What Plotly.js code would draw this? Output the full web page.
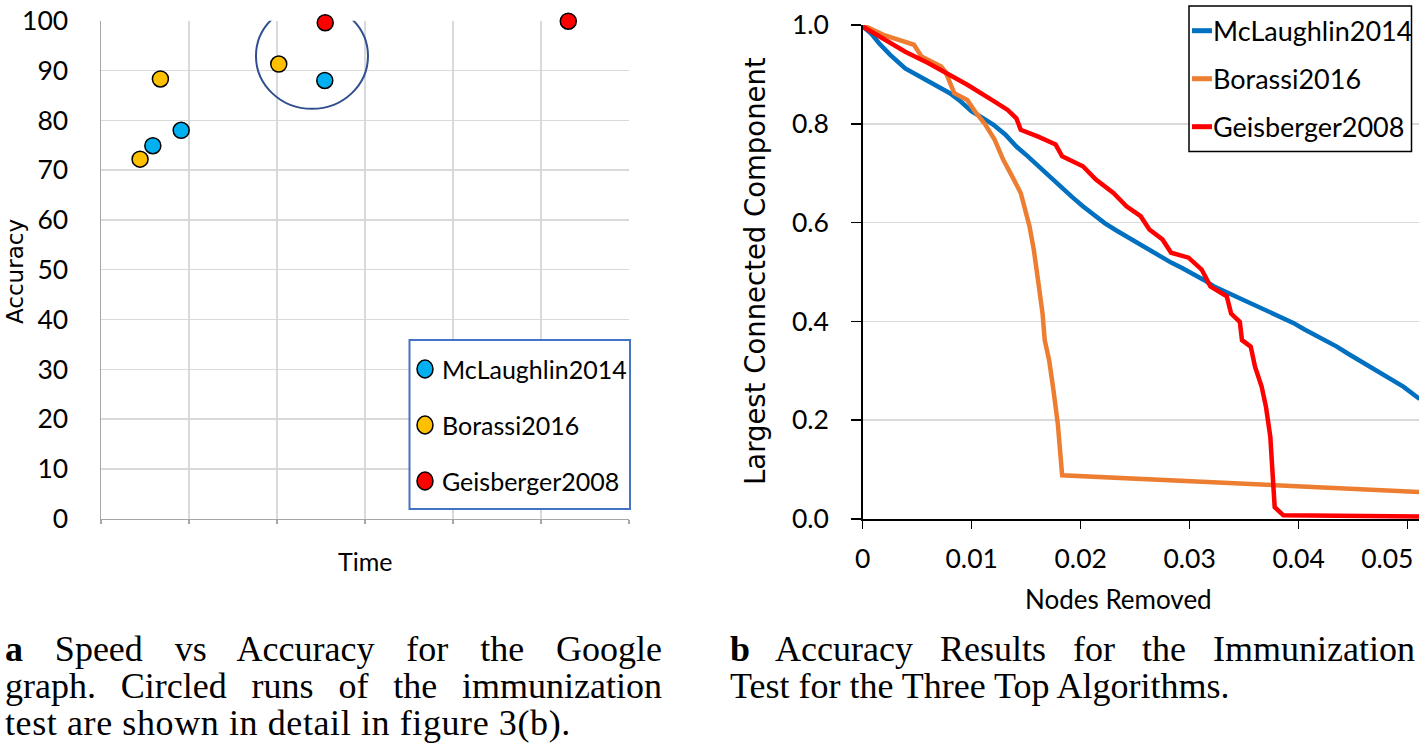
<!DOCTYPE html>
<html>
<head>
<meta charset="utf-8">
<script src="https://cdn.plot.ly/plotly-3.0.1.min.js"></script>
<style>
  html, body { margin: 0; padding: 0; background: #ffffff; }
  #wrap { position: relative; width: 1419px; height: 745px; overflow: hidden; }
  #chart { position: absolute; left: 0; top: 0; width: 1419px; height: 745px; }
  .cap { position: absolute; font-family: "Liberation Serif", "Times New Roman", serif; font-size: 36px; line-height: 37px; color: #000; white-space: nowrap; }
  .cap .ln { display: block; }
  .cap .j { text-align: justify; text-align-last: justify; white-space: normal; }
  .cap b { font-weight: bold; }
</style>
</head>
<body>
<div id="wrap">
  <div id="chart"></div>
  <div class="cap" id="capA" style="left:5px; top:631px; width:657px;">
    <span class="ln j"><b>a</b> Speed vs Accuracy for the Google</span>
    <span class="ln j">graph. Circled runs of the immunization</span>
    <span class="ln" style="letter-spacing:0.6px;">test are shown in detail in figure 3(b).</span>
  </div>
  <div class="cap" id="capB" style="left:730px; top:631px; width:685px;">
    <span class="ln j"><b>b</b> Accuracy Results for the Immunization</span>
    <span class="ln">Test for the Three Top Algorithms.</span>
  </div>
</div>
<script>
// ---------- data: panel (a) speed vs accuracy ----------
const algorithms = ['McLaughlin2014', 'Borassi2016', 'Geisberger2008'];
const timeMcLaughlin = [0.589, 0.911, 2.543];
const accMcLaughlin  = [74.9, 78.0, 88.0];
const timeBorassi    = [0.444, 0.675, 2.02];
const accBorassi     = [72.2, 88.3, 91.3];
const timeGeisberger = [2.548, 5.31];
const accGeisberger  = [99.6, 99.9];
const accuracyTicks  = [0, 10, 20, 30, 40, 50, 60, 70, 80, 90, 100];

// ---------- data: panel (b) immunization test ----------
const nodesTickVals   = [0, 0.01, 0.02, 0.03, 0.04, 0.05];
const nodesTickLabels = ['0', '0.01', '0.02', '0.03', '0.04', '0.05'];
const removedMcLaughlin = [0, 0.0008, 0.0015, 0.0025, 0.0039, 0.005, 0.006, 0.007, 0.008, 0.009, 0.010, 0.011, 0.012, 0.0131, 0.0141, 0.0151, 0.0161, 0.0171, 0.0181, 0.0192, 0.0202, 0.0212, 0.0222, 0.0232, 0.0242, 0.0252, 0.0263, 0.0273, 0.0283, 0.0293, 0.0303, 0.0313, 0.0323, 0.0334, 0.0344, 0.0354, 0.0364, 0.0374, 0.0384, 0.0395, 0.0405, 0.0415, 0.0425, 0.0435, 0.0445, 0.0455, 0.0465, 0.0476, 0.0486, 0.0496, 0.0511];
const lccMcLaughlin     = [0.997, 0.982, 0.963, 0.940, 0.912, 0.898, 0.886, 0.875, 0.862, 0.845, 0.825, 0.812, 0.798, 0.778, 0.754, 0.735, 0.714, 0.695, 0.673, 0.652, 0.633, 0.615, 0.599, 0.585, 0.572, 0.558, 0.545, 0.532, 0.519, 0.508, 0.497, 0.484, 0.470, 0.459, 0.448, 0.440, 0.430, 0.420, 0.409, 0.397, 0.384, 0.373, 0.362, 0.349, 0.335, 0.322, 0.308, 0.295, 0.281, 0.268, 0.243];
const removedBorassi = [0, 0.0019, 0.0047, 0.0054, 0.0072, 0.0076, 0.0084, 0.0096, 0.0104, 0.0112, 0.0121, 0.0129, 0.0137, 0.0145, 0.0153, 0.0157, 0.0161, 0.0165, 0.0167, 0.0171, 0.0175, 0.0179, 0.0183, 0.0512];
const lccBorassi     = [1.0, 0.98, 0.96, 0.936, 0.916, 0.905, 0.862, 0.848, 0.822, 0.80, 0.768, 0.727, 0.694, 0.66, 0.593, 0.545, 0.481, 0.416, 0.362, 0.322, 0.261, 0.193, 0.0885, 0.0547];
const removedGeisberger = [0, 0.0039, 0.006, 0.008, 0.0096, 0.0121, 0.0133, 0.0141, 0.0145, 0.0161, 0.0177, 0.0183, 0.0202, 0.0214, 0.023, 0.0242, 0.0255, 0.0263, 0.0275, 0.0283, 0.0299, 0.0311, 0.0319, 0.0334, 0.0338, 0.0346, 0.0348, 0.0356, 0.036, 0.0366, 0.037, 0.0374, 0.0376, 0.0378, 0.0386, 0.0512];
const lccGeisberger     = [0.997, 0.946, 0.923, 0.899, 0.879, 0.845, 0.828, 0.811, 0.788, 0.774, 0.758, 0.734, 0.714, 0.687, 0.66, 0.633, 0.613, 0.586, 0.566, 0.539, 0.529, 0.505, 0.471, 0.451, 0.416, 0.399, 0.362, 0.349, 0.308, 0.268, 0.227, 0.166, 0.078, 0.024, 0.0074, 0.005];

// ---------- styling ----------
const W = 1419, H = 745;
const px = x => x / W;
const py = y => 1 - y / H;
const markerColors = ['#00B0F0', '#FFC000', '#FF0000'];
const lineColors = ['#0070C0', '#ED7D31', '#FF0000'];
const sansFont = 'Lato, "Open Sans", sans-serif';
const titleFont = '"DejaVu Sans", Verdana, sans-serif';

const mk = c => ({ size: 16, color: c, line: { color: '#000000', width: 1.5 } });
const traces = [
  { type: 'scatter', mode: 'markers', name: algorithms[0], x: timeMcLaughlin, y: accMcLaughlin, marker: mk(markerColors[0]), xaxis: 'x', yaxis: 'y', showlegend: false, cliponaxis: false },
  { type: 'scatter', mode: 'markers', name: algorithms[1], x: timeBorassi, y: accBorassi, marker: mk(markerColors[1]), xaxis: 'x', yaxis: 'y', showlegend: false, cliponaxis: false },
  { type: 'scatter', mode: 'markers', name: algorithms[2], x: timeGeisberger, y: accGeisberger, marker: mk(markerColors[2]), xaxis: 'x', yaxis: 'y', showlegend: false, cliponaxis: false },
  { type: 'scatter', mode: 'lines', name: algorithms[0], x: removedMcLaughlin, y: lccMcLaughlin, line: { color: lineColors[0], width: 4.5 }, xaxis: 'x2', yaxis: 'y2', showlegend: false },
  { type: 'scatter', mode: 'lines', name: algorithms[1], x: removedBorassi, y: lccBorassi, line: { color: lineColors[1], width: 4.5 }, xaxis: 'x2', yaxis: 'y2', showlegend: false },
  { type: 'scatter', mode: 'lines', name: algorithms[2], x: removedGeisberger, y: lccGeisberger, line: { color: lineColors[2], width: 4.5 }, xaxis: 'x2', yaxis: 'y2', showlegend: false }
];

const shapes = [];
const annotations = [];

// circled runs (panel a)
shapes.push({ type: 'circle', xref: 'x', yref: 'y', x0: 1.761, x1: 3.034, y0: 82.3, y1: 103.5, line: { color: '#2F4F8F', width: 2 } });

// legend (panel a)
shapes.push({ type: 'rect', xref: 'paper', yref: 'paper', x0: px(409.5), x1: px(630), y0: py(509), y1: py(340), line: { color: '#4472C4', width: 2 }, fillcolor: 'rgba(255,255,255,1)', layer: 'above' });
const legARows = [369, 425, 481];
algorithms.forEach((name, i) => {
  shapes.push({ type: 'circle', xref: 'paper', yref: 'paper', xsizemode: 'pixel', ysizemode: 'pixel', xanchor: px(425), yanchor: py(legARows[i]), x0: -8, x1: 8, y0: -9, y1: 9, fillcolor: markerColors[i], line: { color: '#000000', width: 1.5 }, layer: 'above' });
  annotations.push({ xref: 'paper', yref: 'paper', x: px(440), y: py(legARows[i]), xanchor: 'left', yanchor: 'middle', text: name, showarrow: false, font: { family: sansFont, size: 25, color: '#000' } });
});

// legend (panel b)
shapes.push({ type: 'rect', xref: 'paper', yref: 'paper', x0: px(1189), x1: px(1411.5), y0: py(151.5), y1: py(6), line: { color: '#000000', width: 1.5 }, fillcolor: 'rgba(255,255,255,1)', layer: 'above' });
const legBRows = [30.7, 78.7, 126.7];
algorithms.forEach((name, i) => {
  shapes.push({ type: 'line', xref: 'paper', yref: 'paper', x0: px(1192), x1: px(1212), y0: py(legBRows[i]), y1: py(legBRows[i]), line: { color: lineColors[i], width: 5 }, layer: 'above' });
  annotations.push({ xref: 'paper', yref: 'paper', x: px(1211), y: py(legBRows[i]), xanchor: 'left', yanchor: 'middle', text: name, showarrow: false, font: { family: sansFont, size: 27, color: '#000' } });
});

// axis titles
const centered = { xref: 'paper', yref: 'paper', xanchor: 'center', yanchor: 'middle', showarrow: false };
annotations.push(Object.assign({}, centered, { x: px(15), y: py(272), textangle: -90, text: 'Accuracy', font: { family: titleFont, size: 23, color: '#000' } }));
annotations.push(Object.assign({}, centered, { x: px(365), y: py(561), text: 'Time', font: { family: sansFont, size: 25, color: '#000' } }));
annotations.push(Object.assign({}, centered, { x: px(755), y: py(271), textangle: -90, text: 'Largest Connected Component', font: { family: titleFont, size: 27.5, color: '#000' } }));
annotations.push(Object.assign({}, centered, { x: px(1118), y: py(599), text: 'Nodes Removed', font: { family: sansFont, size: 26, color: '#000' } }));

// the last x label sits at the page edge: pad it so it is drawn fully inside, as in the original
const lastIdx = nodesTickLabels.length - 1;
const nodesTickText = nodesTickLabels.map((t, i) => i === lastIdx ? t + '\u00a0'.repeat(6) : t);

const tickFont = { family: sansFont, size: 26.5, color: '#000' };
const layout = {
  width: W, height: H,
  margin: { l: 0, r: 0, t: 0, b: 0, pad: 0 },
  paper_bgcolor: '#ffffff', plot_bgcolor: 'rgba(0,0,0,0)',
  showlegend: false,
  xaxis: {
    domain: [px(101), px(629)], range: [0, 6], tick0: 0, dtick: 1,
    showticklabels: false, showgrid: true, gridcolor: '#D9D9D9', gridwidth: 1.5,
    showline: true, linecolor: '#A6A6A6', linewidth: 1.5,
    ticks: 'outside', ticklen: 4, tickcolor: '#A6A6A6', tickwidth: 1.5,
    zeroline: false, fixedrange: true, anchor: 'y'
  },
  yaxis: {
    domain: [py(518.7), py(20.7)], range: [0, 100], tickvals: accuracyTicks,
    showgrid: true, gridcolor: '#D9D9D9', gridwidth: 1.5,
    showline: true, linecolor: '#A6A6A6', linewidth: 1.5,
    ticks: '', tickfont: tickFont, ticklabelstandoff: 26,
    zeroline: false, fixedrange: true, anchor: 'x'
  },
  xaxis2: {
    domain: [px(862.7), 1], range: [0, 0.05104],
    tickmode: 'array', tickvals: nodesTickVals, ticktext: nodesTickText,
    showgrid: false, showline: true, linecolor: '#000000', linewidth: 1.5,
    ticks: 'outside', ticklen: 8, tickcolor: '#000000', tickwidth: 1.5,
    tickfont: tickFont, ticklabelstandoff: 8, ticklabeloverflow: 'allow',
    zeroline: false, fixedrange: true, anchor: 'y2'
  },
  yaxis2: {
    domain: [py(519), py(25)], range: [0, 1], tick0: 0, dtick: 0.2, tickformat: '.1f',
    showgrid: true, gridcolor: '#D9D9D9', gridwidth: 1.5,
    showline: true, linecolor: '#000000', linewidth: 1.5,
    ticks: 'outside', ticklen: 10, tickcolor: '#000000', tickwidth: 1.5,
    tickfont: tickFont, ticklabelstandoff: 17,
    zeroline: false, fixedrange: true, anchor: 'x2'
  },
  shapes: shapes,
  annotations: annotations
};

Plotly.newPlot('chart', traces, layout, { staticPlot: true, displayModeBar: false });
</script>
</body>
</html>
